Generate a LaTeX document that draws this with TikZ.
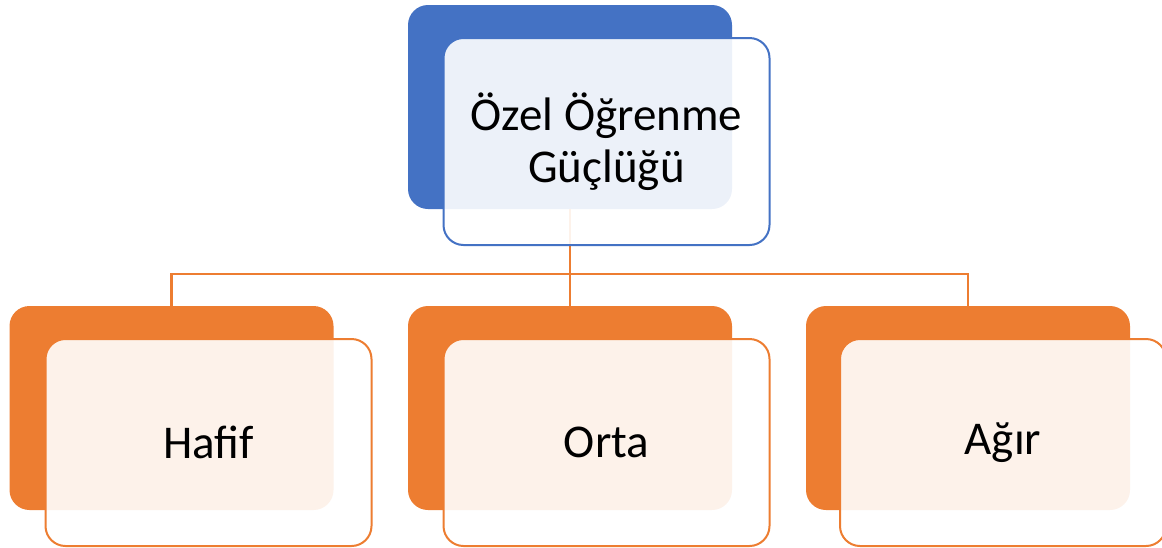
\documentclass[tikz,border=0pt]{standalone}
\usepackage{fontspec}
\setmainfont{Carlito}
\definecolor{oblue}{HTML}{4472C4}
\definecolor{oorange}{HTML}{ED7D31}
\begin{document}
\begin{tikzpicture}[x=1pt,y=-1pt,
  backbox/.style={rectangle, rounded corners=20pt, minimum width=324pt, minimum height=204pt, inner sep=0pt, outer sep=0pt},
  frontbox/.style={rectangle, rounded corners=20pt, minimum width=326pt, minimum height=207pt, inner sep=0pt, outer sep=0pt, fill=white, fill opacity=0.9, text opacity=1, line width=2pt, align=center, font=\fontsize{47}{52}\selectfont},
  conn/.style={draw=oorange, line width=2.5pt}]
\useasboundingbox (0,0) rectangle (1162,547);
% back boxes
\node[backbox, fill=oblue] (tb) at (570,107) {};
\node[backbox, fill=oorange] (lb) at (171.5,408) {};
\node[backbox, fill=oorange] (mb) at (570,408) {};
\node[backbox, fill=oorange] (rb) at (968,408) {};
% connectors
\coordinate (bus) at (570,274);
\draw[conn] (tb.south) -- (bus);
\draw[conn] (lb.north) |- (bus) -| (rb.north);
\draw[conn] (bus) -- (mb.north);
% front boxes
\node[frontbox, draw=oblue] (tf) at (606.5,141.5) {Özel Öğrenme\\Güçlüğü};
\node[frontbox, draw=oorange] (lf) at (208.5,442.5) {Hafif};
\node[frontbox, draw=oorange] (mf) at (606.5,442.5) {Orta};
\node[frontbox, draw=oorange] (rf) at (1003,442.5) {Ağır};
\end{tikzpicture}
\end{document}
